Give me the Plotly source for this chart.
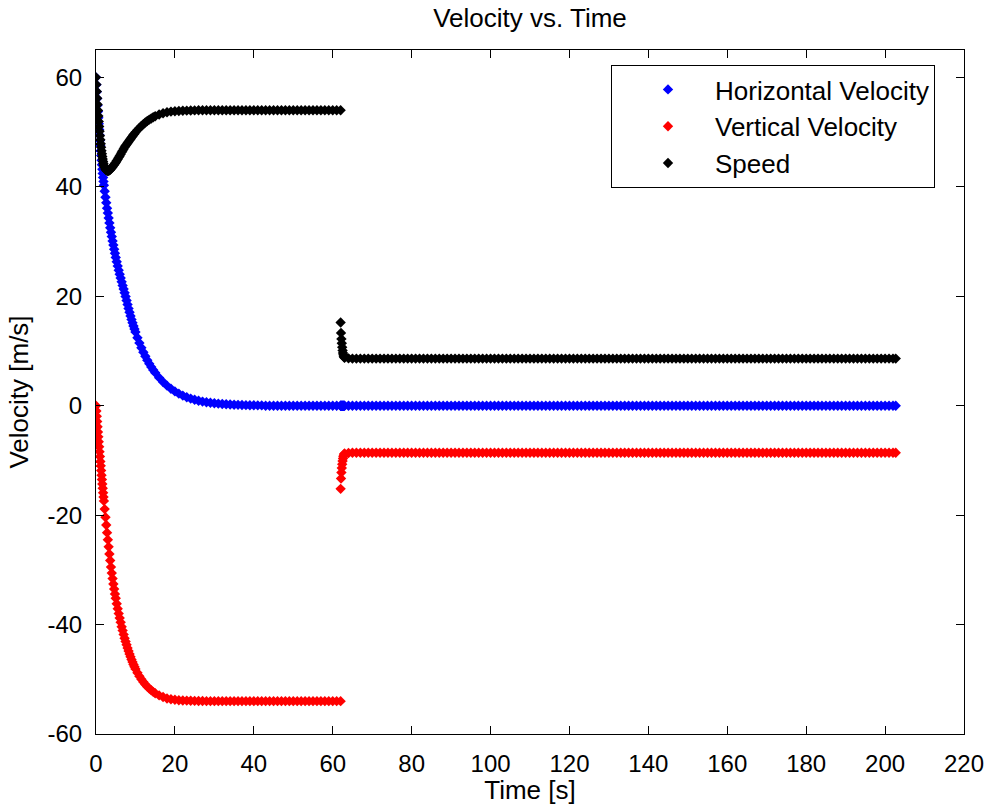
import plotly.graph_objects as go

# ---- Phase 1: free fall (time in s, velocities in m/s) ----
t_fall = [
    0.0, 0.1, 0.2, 0.3, 0.4, 0.5, 0.6, 0.7, 0.8, 0.9, 1.0,
    1.1, 1.2, 1.3, 1.4, 1.5, 1.6, 1.7, 1.8, 1.9, 2.0,
    2.2, 2.4, 2.6, 2.8, 3.0, 3.2, 3.4, 3.6, 3.8, 4.0,
    4.2, 4.4, 4.6, 4.8, 5.0,
    5.25, 5.5, 5.75, 6.0, 6.25, 6.5, 6.75, 7.0, 7.25, 7.5,
    7.75, 8.0, 8.25, 8.5, 8.75, 9.0, 9.25, 9.5, 9.75, 10.0,
    10.5, 11.0, 11.5, 12.0, 12.5, 13.0, 13.5, 14.0, 14.5, 15.0,
] + list(range(16, 63))

horiz_fall = [
    60.0, 58.67, 57.38, 56.13, 54.92, 53.75, 52.62, 51.53, 50.47, 49.45, 48.47,
    47.52, 46.60, 45.71, 44.85, 44.02, 43.22, 42.45, 41.71, 40.99, 40.29,
    39.2, 38.1, 37.1, 36.1, 35.2, 34.3, 33.4, 32.5, 31.7, 30.9,
    30.1, 29.35, 28.6, 27.85, 27.1,
    26.30, 25.52, 24.76, 24.03, 23.32, 22.63, 21.96, 21.31, 20.64, 19.95,
    19.23, 18.49, 17.77, 17.08, 16.41, 15.77, 15.16, 14.57, 14.00, 13.45,
    12.42, 11.47, 10.59, 9.78, 9.02, 8.32, 7.68, 7.09, 6.54, 6.04,
    5.12, 4.34, 3.66, 3.09, 2.61, 2.20, 1.84, 1.54, 1.29, 1.08,
    0.90, 0.75, 0.63, 0.53, 0.44, 0.37, 0.31, 0.26, 0.21, 0.18,
    0.15, 0.12, 0.10, 0.08, 0.07, 0.06, 0.05,
] + [0.0] * 20

vert_fall = [
    0.0, -0.98, -1.95, -2.9, -3.85, -4.8, -5.7, -6.6, -7.5, -8.4, -9.3,
    -10.2, -11.0, -11.85, -12.7, -13.5, -14.3, -15.1, -15.9, -16.7, -17.4,
    -18.9, -20.4, -21.8, -23.2, -24.5, -25.8, -27.1, -28.3, -29.5, -30.6,
    -31.6, -32.6, -33.5, -34.4, -35.2,
    -36.2, -37.1, -38.0, -38.8, -39.6, -40.4, -41.1, -41.8, -42.5, -43.1,
    -43.7, -44.3, -44.85, -45.4, -45.9, -46.4, -46.85, -47.3, -47.7, -48.1,
    -48.8, -49.45, -50.0, -50.5, -50.95, -51.35, -51.7, -52.0, -52.3, -52.55,
    -52.95, -53.25, -53.5, -53.65, -53.75, -53.82, -53.87, -53.9, -53.93, -53.95,
    -53.97, -53.98,
] + [-54.0] * 35

speed_fall = [
    60.0, 58.68, 57.41, 56.20, 55.05, 53.96, 52.93, 51.95, 51.02, 50.16, 49.35,
    48.60, 47.88, 47.22, 46.61, 46.04, 45.52, 45.06, 44.64, 44.26, 43.89,
    43.52, 43.22, 43.03, 42.91, 42.89, 42.92, 43.01, 43.10, 43.30, 43.49,
    43.64, 43.87, 44.05, 44.26, 44.42,
    44.74, 45.03, 45.36, 45.64, 45.96, 46.31, 46.60, 46.92, 47.25, 47.49,
    47.74, 48.00, 48.24, 48.51, 48.75, 49.01, 49.24, 49.49, 49.71, 49.95,
    50.36, 50.76, 51.11, 51.44, 51.74, 52.02, 52.27, 52.48, 52.71, 52.90,
    53.20, 53.43, 53.63, 53.74, 53.81, 53.86, 53.90, 53.92, 53.95, 53.96,
    53.98, 53.99,
] + [54.0] * 35

# ---- Phase 2: descent under the parachute ----
t_chute = [62.0, 62.1, 62.2, 62.3, 62.4, 62.5, 62.6, 62.7, 62.8, 62.9, 63.0] \
    + list(range(64, 203)) + [202.7]

horiz_chute = [0.0] * 151

vert_chute = [-15.2, -13.3, -12.2, -11.4, -10.7, -10.1, -9.65, -9.3, -9.05,
              -8.85, -8.75, -8.65] + [-8.6] * 139

speed_chute = [15.2, 13.3, 12.2, 11.4, 10.7, 10.1, 9.65, 9.3, 9.05,
               8.85, 8.75, 8.65] + [8.6] * 139

# ---- axis ticks ----
x_ticks = [0, 20, 40, 60, 80, 100, 120, 140, 160, 180, 200, 220]
x_tick_labels = ["0", "20", "40", "60", "80", "100", "120", "140", "160",
                 "180", "200", "220"]
y_ticks = [-60, -40, -20, 0, 20, 40, 60]
y_tick_labels = ["-60", "-40", "-20", "0", "20", "40", "60"]

series = [
    ("Horizontal Velocity", horiz_fall + horiz_chute, "#0000ff"),
    ("Vertical Velocity", vert_fall + vert_chute, "#ff0000"),
    ("Speed", speed_fall + speed_chute, "#000000"),
]
t_all = t_fall + t_chute

FONT = "Liberation Sans, Arial, Helvetica, sans-serif"
TEXT_SIZE = 26

fig = go.Figure()
for name, values, color in series:
    fig.add_trace(go.Scatter(
        x=t_all, y=values, name=name, mode="markers",
        marker=dict(symbol="diamond", size=8, color=color,
                    line=dict(width=0)),
    ))

axis_common = dict(
    showline=True, linecolor="#000000", linewidth=1, mirror="ticks",
    ticks="inside", ticklen=8, tickwidth=1, tickcolor="#000000",
    showgrid=False, zeroline=False, automargin=False,
    tickfont=dict(family=FONT, size=24, color="#000000"),
)

fig.update_layout(
    width=988, height=805,
    margin=dict(l=96, r=24, t=50, b=71, autoexpand=False),
    paper_bgcolor="white", plot_bgcolor="white",
    font=dict(family=FONT, size=TEXT_SIZE, color="#000000"),
    title=dict(text="Velocity vs. Time", xref="paper", x=0.5,
               yref="container", y=1 - 18 / 805, yanchor="middle",
               xanchor="center", font=dict(family=FONT, size=TEXT_SIZE)),
    xaxis=dict(range=[0, 220], tickvals=x_ticks, ticktext=x_tick_labels,
               ticklabelstandoff=8,
               title=dict(text="Time [s]", standoff=10,
                          font=dict(family=FONT, size=TEXT_SIZE)),
               **axis_common),
    yaxis=dict(range=[-60, 65], tickvals=y_ticks, ticktext=y_tick_labels,
               ticklabelstandoff=8,
               title=dict(text="Velocity [m/s]", standoff=11,
                          font=dict(family=FONT, size=TEXT_SIZE)),
               **axis_common),
    legend=dict(x=(611 - 96) / 868, xanchor="left",
                y=(734 - 65) / 684, yanchor="top",
                bgcolor="white", bordercolor="#000000", borderwidth=1,
                font=dict(family=FONT, size=TEXT_SIZE),
                itemwidth=84, indentation=9),
    showlegend=True,
)

fig.write_html("out.html")
